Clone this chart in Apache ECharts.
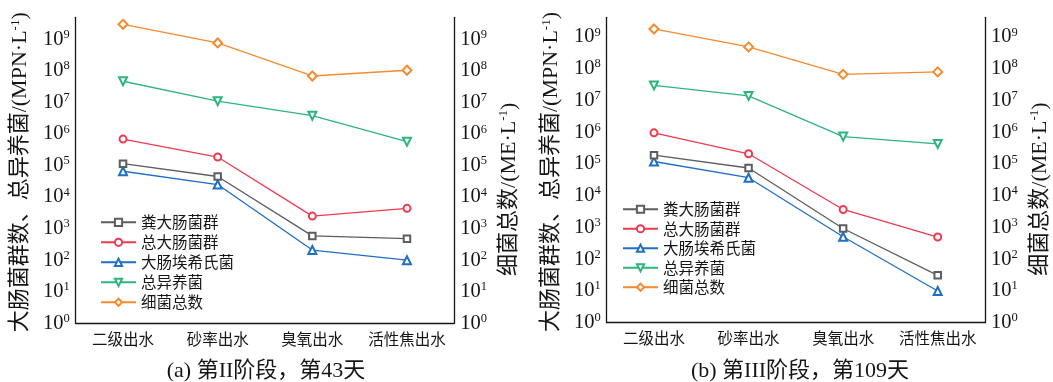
<!DOCTYPE html>
<html><head><meta charset="utf-8">
<script src="https://cdn.jsdelivr.net/npm/echarts@6/dist/echarts.min.js"></script>
<style>html,body{margin:0;padding:0;background:#fff}#c{width:1053px;height:382px}</style>
</head><body><div id="c"></div>
<script>
// ---- data ----
const categories = ['二级出水', '砂率出水', '臭氧出水', '活性焦出水'];
const seriesNames = ['粪大肠菌群', '总大肠菌群', '大肠埃希氏菌', '总异养菌', '细菌总数'];

// (a) 第II阶段，第43天
const fecalA    = [1.15e5, 4.5e4, 5.9e2, 4.8e2];
const coliformA = [6.9e5, 1.86e5, 2.5e3, 4.4e3];
const ecoliA    = [6.6e4, 2.5e4, 2.1e2, 1.0e2];
const heteroA   = [4.7e7, 1.1e7, 3.8e6, 5.7e5];
const bacteriaA = [3.0e9, 7.7e8, 6.9e7, 1.05e8];

// (b) 第III阶段，第109天
const fecalB    = [1.9e5, 7.5e4, 9.3e2, 31];
const coliformB = [9.6e5, 2.1e5, 3.7e3, 5.0e2];
const ecoliB    = [1.2e5, 3.7e4, 5.1e2, 10];
const heteroB   = [3.0e7, 1.4e7, 7.3e5, 4.3e5];
const bacteriaB = [1.8e9, 4.9e8, 6.7e7, 8.0e7];

// axis ticks
const majorTicks = [1, 10, 100, 1e3, 1e4, 1e5, 1e6, 1e7, 1e8, 1e9];
const tickLabels = ['{b|10}{s|0}', '{b|10}{s|1}', '{b|10}{s|2}', '{b|10}{s|3}', '{b|10}{s|4}',
                    '{b|10}{s|5}', '{b|10}{s|6}', '{b|10}{s|7}', '{b|10}{s|8}', '{b|10}{s|9}'];
const minorMultipliers = [2, 3, 4, 5, 6, 7, 8, 9];
const axisMaxA = 5e9;
const axisMaxB = 4.2e9;

const leftTitle = '大肠菌群数、总异养菌/(MPN·L{s|-1})';
const rightTitle = '细菌总数/(ME·L{s|-1})';
const subTitleA = '(a) 第II阶段，第43天';
const subTitleB = '(b) 第III阶段，第109天';

// ---- styling ----
const minorTicks = [];
majorTicks.forEach(m => minorMultipliers.forEach(k => minorTicks.push(m * k)));

const FONT = "'Liberation Serif', 'Noto Sans CJK SC', serif";
const CJK = "'Noto Sans CJK SC', sans-serif";
const INK = '#151515';
const colors = ['#5a5d62', '#ee3a4f', '#1f6fc4', '#2db57e', '#f58a2e'];
const symbols = ['emptyRect', 'emptyCircle', 'emptyTriangle', 'emptyTriangle', 'emptyDiamond'];
const symbolSizes = [6.5, 7, 8, 8, 9];
const symbolRotates = [0, 0, 0, 180, 0];

const grids = [
  { left: 75.7, right: 1053 - 454.3, top: 17.3, bottom: 382 - 323.3 },
  { left: 606.7, right: 1053 - 985, top: 17.3, bottom: 382 - 322.7 }
];
const maxes = [axisMaxA, axisMaxB];
const seriesData = [
  [fecalA, coliformA, ecoliA, heteroA, bacteriaA],
  [fecalB, coliformB, ecoliB, heteroB, bacteriaB]
];

const labelRich = {
  b: { fontSize: 20.5, fontFamily: FONT, color: INK, lineHeight: 22 },
  s: { fontSize: 12.5, fontFamily: FONT, color: INK, verticalAlign: 'top', lineHeight: 13 }
};
const labelFmt = v => {
  const i = majorTicks.findIndex(t => Math.abs(Math.log10(t) - Math.log10(v)) < 1e-6);
  return i >= 0 ? tickLabels[i] : '';
};

const xAxis = [], yAxis = [], series = [];
grids.forEach((g, gi) => {
  xAxis.push({
    gridIndex: gi, type: 'category', data: categories, position: 'bottom', boundaryGap: true,
    axisLine: { lineStyle: { color: INK, width: 1.3 } },
    axisTick: { inside: true, alignWithLabel: true, length: 5, lineStyle: { color: INK, width: 1.2 } },
    axisLabel: { fontSize: 15.5, fontFamily: CJK, color: INK, margin: 8, interval: 0 },
    splitLine: { show: false }
  });
  xAxis.push({
    gridIndex: gi, type: 'category', data: categories, position: 'bottom', boundaryGap: true,
    axisLine: { show: false },
    axisTick: { inside: true, alignWithLabel: false, length: 3, interval: 0, lineStyle: { color: INK, width: 1.2 } },
    axisLabel: { show: false }, splitLine: { show: false }
  });
  ['left', 'right'].forEach(pos => {
    yAxis.push({
      gridIndex: gi, type: 'log', logBase: 10, min: 1, max: maxes[gi], position: pos,
      axisLine: { show: true, lineStyle: { color: INK, width: 1.3 } },
      axisTick: { inside: true, length: 6, customValues: majorTicks, lineStyle: { color: INK, width: 1.3 } },
      axisLabel: {
        customValues: majorTicks, formatter: labelFmt, margin: 6,
        fontSize: 20.5, fontFamily: FONT, color: INK,
        rich: labelRich
      },
      splitLine: { show: false },
      name: pos === 'left' ? leftTitle : rightTitle,
      nameLocation: 'middle', nameRotate: 90, nameGap: 43,
      nameTextStyle: {
        fontSize: 22, fontFamily: FONT, color: INK, lineHeight: 24,
        padding: pos === 'left' ? [0, 4, 0, 0] : [0, 38, 0, 0],
        rich: { s: { fontSize: 13, fontFamily: FONT, color: INK, verticalAlign: 'top', lineHeight: 12 } }
      }
    });
    yAxis.push({
      gridIndex: gi, type: 'log', logBase: 10, min: 1, max: maxes[gi], position: pos,
      axisLine: { show: false },
      axisTick: { inside: true, length: 3.5, customValues: minorTicks, lineStyle: { color: INK, width: 1 } },
      axisLabel: { show: false }, splitLine: { show: false }
    });
  });
  seriesNames.forEach((name, si) => {
    series.push({
      name, type: 'line', xAxisIndex: gi * 2, yAxisIndex: gi * 4,
      data: seriesData[gi][si],
      symbol: symbols[si], symbolSize: symbolSizes[si], symbolRotate: symbolRotates[si],
      lineStyle: { color: colors[si], width: 1.3 },
      itemStyle: { color: colors[si], borderWidth: 1.2 },
      color: colors[si],
      z: 10 - si
    });
  });
});

const legendCommon = {
  orient: 'vertical', padding: 0, itemGap: 0, itemWidth: 35, itemHeight: 9,
  selectedMode: false, data: seriesNames,
  textStyle: { fontSize: 15.5, fontFamily: CJK, color: INK }
};

const option = {
  animation: false,
  backgroundColor: '#fff',
  grid: grids,
  xAxis, yAxis, series,
  legend: [
    Object.assign({}, legendCommon, { left: 100, top: 212.3, textStyle: Object.assign({}, legendCommon.textStyle, { lineHeight: 20 }) }),
    Object.assign({}, legendCommon, { left: 622, top: 199.5, textStyle: Object.assign({}, legendCommon.textStyle, { lineHeight: 19.5 }) })
  ],
  graphic: [
    { type: 'text', x: 266, y: 371, style: { text: subTitleA, fontSize: 22, fontFamily: FONT, fill: INK, align: 'center', verticalAlign: 'middle' } },
    { type: 'text', x: 800, y: 371, style: { text: subTitleB, fontSize: 22, fontFamily: FONT, fill: INK, align: 'center', verticalAlign: 'middle' } }
  ]
};

const chart = echarts.init(document.getElementById('c'), null, { renderer: 'canvas' });
chart.setOption(option);
</script></body></html>
